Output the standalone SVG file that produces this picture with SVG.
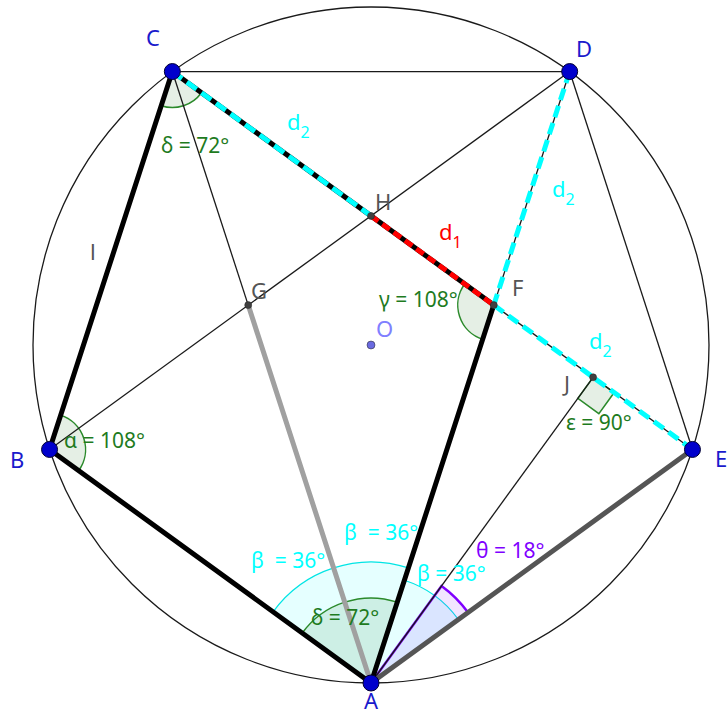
<svg xmlns="http://www.w3.org/2000/svg" width="727" height="710" viewBox="0 0 727 710">
<style>
text{font-family:"Noto Sans","Open Sans","DejaVu Sans",sans-serif}
.thin{stroke:#1a1a1a;stroke-width:1.3;fill:none}
.thick{stroke:#000;stroke-width:5;fill:none;stroke-linecap:round}
.cyd{stroke:#00ffff;stroke-width:5;fill:none;stroke-dasharray:12 6}
.grn{fill:#006400;fill-opacity:0.1;stroke:#2b8a2b;stroke-width:1.5}
.cy{fill:#00ffff;fill-opacity:0.1;stroke:#00e5e5;stroke-width:1.2}
.pu{fill:#7f00ff;fill-opacity:0.1;stroke:#7f00ff;stroke-width:2.5}
.big{fill:#0000cc;stroke:#000033;stroke-width:1}
.sm{fill:#404040;stroke:#222;stroke-width:0.5}
.pl{fill:#1a1acc;font-size:22px}
.gl{fill:#555;font-size:22px}
.al{fill:#1e7b1e;font-size:21px}
.bl{fill:#00ffff;font-size:21px}
</style>
<rect width="727" height="710" fill="#fff"/>
<g id="circle"><circle cx="371" cy="345" r="338" class="thin"/></g>
<g id="angles">
<path class="grn" d="M172.33,71.55 L201.45,92.71 A36,36 0 0 1 161.21,105.79 Z"/>
<path class="grn" d="M49.54,449.45 L60.66,415.21 A36,36 0 0 1 78.66,470.61 Z"/>
<path class="grn" d="M493.79,305.1 L482.67,339.34 A36,36 0 0 1 464.67,283.94 Z"/>
<path class="cy" d="M371,683 L273.11,611.88 A121,121 0 0 1 333.61,567.92 Z"/>
<path class="cy" d="M371,683 L333.61,567.92 A121,121 0 0 1 408.39,567.92 Z"/>
<path class="cy" d="M371,683 L404.37,580.29 A108,108 0 0 1 458.37,619.52 Z"/>
<path class="grn" d="M371,683 L302.23,633.04 A85,85 0 0 1 397.27,602.16 Z"/>
<path class="pu" d="M371,683 L441.53,585.92 A120,120 0 0 1 468.08,612.47 Z"/>
<path class="grn" d="M593.12,377.27 L614.15,392.55 L598.87,413.58 L577.84,398.3 Z"/>
</g>
<g id="connectors">
<line class="thin" x1="172.33" y1="71.55" x2="569.67" y2="71.55"/>
<line class="thin" x1="569.67" y1="71.55" x2="49.54" y2="449.45"/>
<line class="thin" x1="172.33" y1="71.55" x2="248.21" y2="305.1"/>
<line class="thin" x1="569.67" y1="71.55" x2="692.46" y2="449.45"/>
<line class="thin" x1="569.67" y1="71.55" x2="493.79" y2="305.1"/>
<line class="thin" x1="493.79" y1="305.1" x2="692.46" y2="449.45"/>
<line class="thin" x1="371" y1="683" x2="593.12" y2="377.27"/>
<line class="thick" x1="172.33" y1="71.55" x2="49.54" y2="449.45"/>
<line class="thick" x1="49.54" y1="449.45" x2="371" y2="683"/>
<line class="thick" x1="371" y1="683" x2="493.79" y2="305.1"/>
<line class="thick" x1="371" y1="683" x2="248.21" y2="305.1" style="stroke:#a0a0a0"/>
<line class="thick" x1="371" y1="683" x2="692.46" y2="449.45" style="stroke:#555"/>
<line class="thick" x1="172.33" y1="71.55" x2="371" y2="215.89" style="stroke-linecap:butt"/>
<line class="thick" x1="371" y1="215.89" x2="493.79" y2="305.1" style="stroke-linecap:butt"/>
<line x1="371" y1="215.89" x2="493.79" y2="305.1" style="stroke:#ff0000;stroke-width:5;stroke-dasharray:9 5"/>
<line class="cyd" x1="172.33" y1="71.55" x2="371" y2="215.89"/>
<line class="cyd" x1="493.79" y1="305.1" x2="692.46" y2="449.45"/>
<line class="cyd" x1="569.67" y1="71.55" x2="493.79" y2="305.1"/>
</g>
<g id="O"><circle class="sm" cx="371" cy="345" r="4" style="fill:#6a6ae0"/><text x="376" y="337" style="fill:#8080ff;font-size:22px">O</text></g>
<g id="G"><circle class="sm" cx="248.21" cy="305.1" r="3.5"/><text class="gl" x="251" y="299">G</text></g>
<g id="H"><circle class="sm" cx="371" cy="215.89" r="3.5"/><text class="gl" x="375" y="210">H</text></g>
<g id="F"><circle class="sm" cx="493.79" cy="305.1" r="3.5"/><text class="gl" x="512" y="296">F</text></g>
<g id="J"><circle class="sm" cx="593.12" cy="377.27" r="3.5"/><text class="gl" x="564" y="392">J</text></g>
<g id="A"><circle class="big" cx="371" cy="683" r="8"/><text class="pl" x="364" y="709">A</text></g>
<g id="B"><circle class="big" cx="49.54" cy="449.45" r="8"/><text class="pl" x="10" y="468">B</text></g>
<g id="C"><circle class="big" cx="172.33" cy="71.55" r="8"/><text class="pl" x="146" y="46">C</text></g>
<g id="D"><circle class="big" cx="569.67" cy="71.55" r="8"/><text class="pl" x="576" y="57">D</text></g>
<g id="E"><circle class="big" cx="692.46" cy="449.45" r="8"/><text class="pl" x="715" y="467">E</text></g>
<g id="labels">
<text class="gl" x="90" y="260">l</text>
<text class="al" x="161" y="153">δ = 72°</text>
<text class="al" x="64" y="448">α = 108°</text>
<text class="al" x="379" y="307">γ = 108°</text>
<text class="al" x="566" y="430">ε = 90°</text>
<text class="al" x="311" y="625">δ  = 72°</text>
<text class="bl" x="251" y="568" xml:space="preserve">β  = 36°</text>
<text class="bl" x="344" y="540" xml:space="preserve">β  = 36°</text>
<text class="bl" x="417" y="581">β = 36°</text>
<text x="476" y="558" style="fill:#7f00ff;font-size:21px">θ = 18°</text>
<text x="287" y="130" style="fill:#00ffff;font-size:22px">d<tspan dy="8" font-size="16">2</tspan></text>
<text x="552" y="197" style="fill:#00ffff;font-size:22px">d<tspan dy="8" font-size="16">2</tspan></text>
<text x="589" y="349" style="fill:#00ffff;font-size:22px">d<tspan dy="8" font-size="16">2</tspan></text>
<text x="439" y="240" style="fill:#ff0000;font-size:22px">d<tspan dy="8" font-size="16">1</tspan></text>
<text x="-7" y="573" style="fill:#000;font-size:20px">)</text>
</g>
</svg>
